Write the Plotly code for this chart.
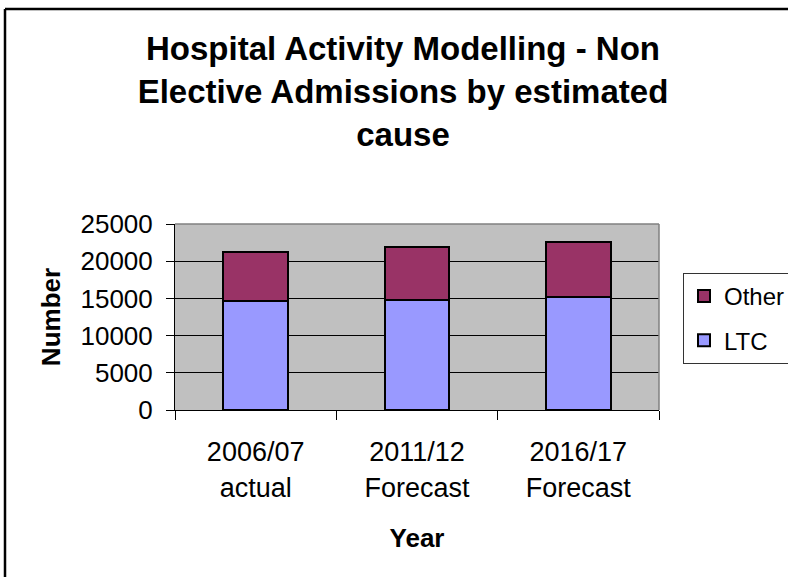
import plotly.graph_objects as go

categories = ["2006/07<br>actual", "2011/12<br>Forecast", "2016/17<br>Forecast"]
ltc_values = [14600, 14800, 15200]
other_values = [6600, 7100, 7400]
y_ticks = [0, 5000, 10000, 15000, 20000, 25000]

FONT = "Liberation Sans, Arial, sans-serif"

fig = go.Figure()
fig.add_trace(go.Bar(
    x=categories, y=ltc_values, name="LTC", legendgroup="a", legendrank=2,
    marker=dict(color="#9999FF", line=dict(color="black", width=2)),
))
fig.add_trace(go.Bar(
    x=categories, y=other_values, name="Other", legendgroup="b", legendrank=1,
    marker=dict(color="#993366", line=dict(color="black", width=2)),
))

L, R, T, B = 175, 659, 224, 410
W, H = 788, 577

def px_x(p):
    return (p - L) / (R - L)

def px_y(p):
    return (B - p) / (B - T)

fig.update_layout(
    width=W, height=H,
    margin=dict(l=L, r=W - R, t=T, b=H - B, pad=0, autoexpand=False),
    paper_bgcolor="white",
    plot_bgcolor="#C0C0C0",
    barmode="stack",
    bargap=0.6,
    font=dict(family=FONT, color="black", size=25),
    title=dict(
        text="<b>Hospital Activity Modelling - Non<br>Elective Admissions by estimated<br>cause</b>",
        x=403 / W, xanchor="center", xref="container",
        y=1 - 60 / H, yanchor="top", yref="container",
        font=dict(family=FONT, size=33, color="black"),
    ),
    showlegend=True,
    legend=dict(
        x=px_x(683), y=px_y(273), xanchor="left", yanchor="top",
        traceorder="grouped", tracegroupgap=10,
        bordercolor="#333333", borderwidth=1, bgcolor="white",
        font=dict(family=FONT, size=24, color="black"),
    ),
    xaxis=dict(
        showgrid=False, showline=True, linecolor="black", linewidth=1,
        ticks="outside", ticklen=9, tickcolor="black", tickson="boundaries",
        ticklabelstandoff=18,
        tickfont=dict(family=FONT, size=27),
        title=dict(text="<b>Year</b>", font=dict(family=FONT, size=26), standoff=27),
    ),
    yaxis=dict(
        range=[0, 25000], tickvals=y_ticks, ticktext=[str(v) for v in y_ticks],
        showgrid=True, gridcolor="black", gridwidth=1,
        showline=True, linecolor="black", linewidth=1,
        ticks="outside", ticklen=8, tickcolor="black",
        ticklabelstandoff=8,
        tickfont=dict(family=FONT, size=26),
        zeroline=False,
        title=dict(text="<b>Number</b>", font=dict(family=FONT, size=26), standoff=12),
    ),
    shapes=[
        dict(type="line", xref="paper", yref="paper", x0=0, x1=1, y0=1, y1=1,
             line=dict(color="#808080", width=1.5)),
        dict(type="line", xref="paper", yref="paper", x0=1, x1=1, y0=0, y1=1,
             line=dict(color="#808080", width=1.5)),
        dict(type="line", xref="paper", yref="paper", x0=px_x(5), x1=px_x(5),
             y0=px_y(H + 10), y1=px_y(9), line=dict(color="black", width=2.5)),
        dict(type="line", xref="paper", yref="paper", x0=px_x(5), x1=px_x(W + 10),
             y0=px_y(9), y1=px_y(9), line=dict(color="black", width=2.5)),
    ],
)

fig.write_html(
    "out.html",
    config={"displayModeBar": False},
    post_script="document.body.style.margin='0';document.body.style.overflow='hidden';",
)
